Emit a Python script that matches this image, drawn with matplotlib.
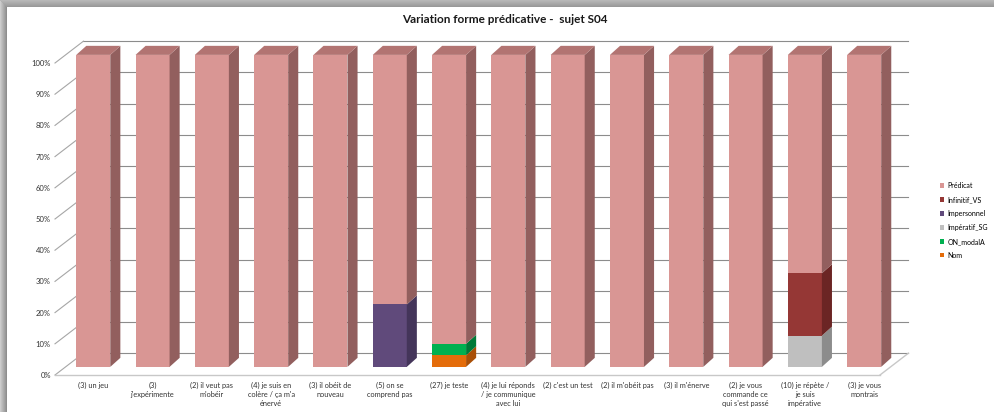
import numpy as np
import matplotlib
matplotlib.use("Agg")
import matplotlib.pyplot as plt
from matplotlib.patches import Patch

categories = [
    "(3) un jeu",
    "(3)\nj'expérimente",
    "(2) il veut pas\nm'obéir",
    "(4) je suis en\ncolère / ça m'a\nénervé",
    "(3) il obéit de\nnouveau",
    "(5) on se\ncomprend pas",
    "(27) je teste",
    "(4) je lui réponds\n/ je communique\navec lui",
    "(2) c'est un test",
    "(2) il m'obéit pas",
    "(3) il m'énerve",
    "(2) je vous\ncommande ce\nqui s'est passé",
    "(10) je répète /\nje suis\nimpérative",
    "(3) je vous\nmontrais",
]

# pourcentages par catégorie (empilés de bas en haut)
nom = [0, 0, 0, 0, 0, 0, 3.7, 0, 0, 0, 0, 0, 0, 0]
on_modala = [0, 0, 0, 0, 0, 0, 3.7, 0, 0, 0, 0, 0, 0, 0]
imperatif_sg = [0, 0, 0, 0, 0, 0, 0, 0, 0, 0, 0, 0, 10, 0]
impersonnel = [0, 0, 0, 0, 0, 20, 0, 0, 0, 0, 0, 0, 0, 0]
infinitif_vs = [0, 0, 0, 0, 0, 0, 0, 0, 0, 0, 0, 0, 20, 0]
predicat = [100, 100, 100, 100, 100, 80, 92.6, 100, 100, 100, 100, 100, 70, 100]

series = [
    ("Nom", nom, "#E46C0A", "#A94F07", "#C45C08"),
    ("ON_modalA", on_modala, "#00B050", "#007A38", "#009444"),
    ("Impératif_SG", imperatif_sg, "#BFBFBF", "#8C8C8C", "#A6A6A6"),
    ("Impersonnel", impersonnel, "#604A7B", "#44355A", "#54416C"),
    ("Infinitif_VS", infinitif_vs, "#953735", "#6B2524", "#7F2E2C"),
    ("Prédicat", predicat, "#D99694", "#925F5E", "#B27472"),
]

font = ["Lato", "DejaVu Sans"]
plt.rcParams["font.family"] = font

fig = plt.figure(figsize=(9.95, 4.12), dpi=100)

# cadre gris (ombre de la capture)
bg = fig.add_axes([0, 0, 1, 1])
img = np.ones((412, 995, 3))
for k in range(7):
    g = 0.80 - 0.04 * k
    img[:, k, :] = g
for k in range(7):
    g = 0.72 - 0.02 * k
    img[k, k:, :] = g
bg.imshow(img, aspect="auto", interpolation="nearest")
bg.set_axis_off()

ax = fig.add_axes([55 / 995, 37 / 412, 825 / 995, 312 / 412])
x0, x1 = -0.455, 13.457
ax.set_xlim(x0, x1)
ax.set_ylim(0, 100)
ax.patch.set_alpha(0)
for s in ax.spines.values():
    s.set_visible(False)

# profondeur (unités de données)
dub, dvb = 0.48, 7.0     # mur du fond
du1, dv1 = 0.19, 2.6     # face avant des barres
du2, dv2 = 0.36, 5.5     # face arrière des barres
hw = 0.287

levels = np.arange(0, 101, 10)
for v in levels:
    ax.plot([x0 + dub, x1 + dub], [v + dvb, v + dvb], color="#8C8C8C", lw=0.8, clip_on=False, zorder=1)
    ax.plot([x0, x0 + dub], [v, v + dvb], color="#A6A6A6", lw=0.8, clip_on=False, zorder=1)
ax.plot([x0, x1], [0, 0], color="#C8C8C8", lw=1.0, clip_on=False, zorder=1)
ax.plot([x1, x1 + dub], [0, dvb], color="#C8C8C8", lw=1.0, clip_on=False, zorder=1)

idx = np.arange(len(categories))
bottom = np.zeros(len(categories))
top_color = [None] * len(categories)
for name, vals, front, side, top in series:
    vals = np.array(vals, dtype=float)
    ax.bar(idx + du1, vals, width=2 * hw, bottom=bottom + dv1, color=front, zorder=3, clip_on=False)
    for i in idx:
        if vals[i] <= 0:
            continue
        xr = i + du1 + hw
        y0 = bottom[i] + dv1
        y1 = bottom[i] + vals[i] + dv1
        ax.fill([xr, xr + du2 - du1, xr + du2 - du1, xr],
                [y0, y0 + dv2 - dv1, y1 + dv2 - dv1, y1],
                color=side, zorder=3, clip_on=False, lw=0)
        top_color[i] = top
    bottom = bottom + vals

for i in idx:
    xl = i + du1 - hw
    xr = i + du1 + hw
    y = bottom[i] + dv1
    d, e = du2 - du1, dv2 - dv1
    ax.fill([xl, xr, xr + d, xl + d], [y, y, y + e, y + e],
            color=top_color[i], zorder=3, clip_on=False, lw=0)

ax.set_yticks(levels)
ax.set_yticklabels([f"{v}%" for v in levels], fontsize=5.5, color="#333333")
ax.set_xticks(idx + du1)
ax.set_xticklabels(categories, fontsize=5.3, color="#333333", linespacing=1.35, va="top")
ax.tick_params(length=0)
ax.tick_params(axis="x", pad=5)
ax.tick_params(axis="y", pad=3)

fig.text(0.507, 0.953, "Variation forme prédicative -  sujet S04", ha="center", va="center",
         fontsize=8.5, fontweight="bold", color="#1a1a1a")

handles = [Patch(facecolor=c, edgecolor="none") for _, _, c, _, _ in series][::-1]
labels = [n for n, _, _, _, _ in series][::-1]
fig.legend(handles, labels, loc="upper left", bbox_to_anchor=(940 / 995, 1 - 182 / 412),
           frameon=False, fontsize=5, handlelength=0.6, handleheight=0.6,
           labelspacing=1.0, handletextpad=0.5, borderaxespad=0, borderpad=0)

fig.savefig("out.png", dpi=100)
